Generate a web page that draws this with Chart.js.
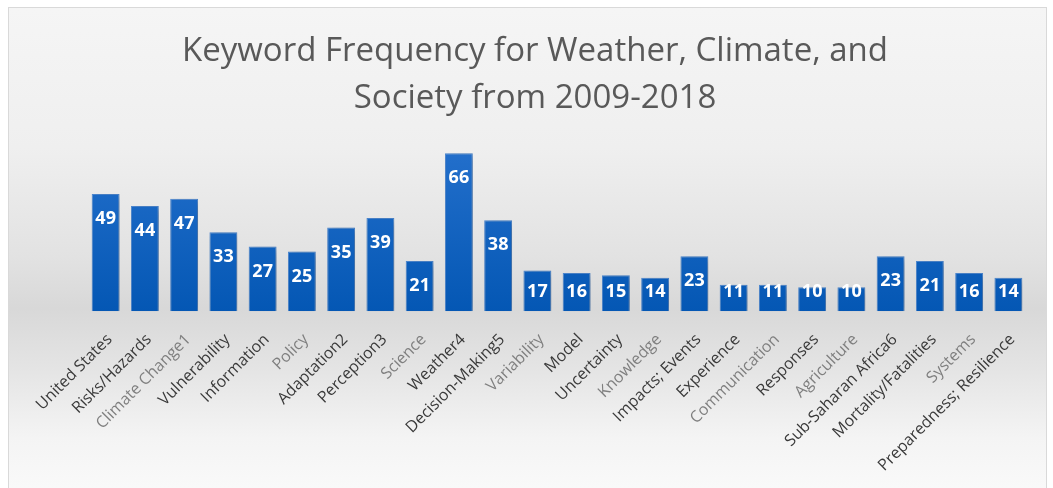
<!DOCTYPE html>
<html>
<head>
<meta charset="utf-8">
<script src="https://cdn.jsdelivr.net/npm/chart.js@4"></script>
<style>
  html, body { margin: 0; padding: 0; background: #ffffff; }
  #frame {
    position: absolute; left: 8px; top: 7px; width: 1037px; height: 490px;
    border: 1px solid #d9d9d9;
    background: linear-gradient(to bottom, #f5f5f5 0px, #efefef 140px, #e2e2e2 250px, #d8d8d8 300px, #e4e4e4 360px, #f4f4f4 430px, #fafafa 490px);
  }
  #wrap { position: absolute; left: 0; top: 0; width: 1053px; height: 488px; }
</style>
</head>
<body>
<div id="frame"></div>
<div id="wrap"><canvas id="myChart"></canvas></div>
<script>
var keywords = ['United States', 'Risks/Hazards', 'Climate Change1', 'Vulnerability', 'Information', 'Policy',
  'Adaptation2', 'Perception3', 'Science', 'Weather4', 'Decision-Making5', 'Variability', 'Model',
  'Uncertainty', 'Knowledge', 'Impacts; Events', 'Experience', 'Communication', 'Responses',
  'Agriculture', 'Sub-Saharan Africa6', 'Mortality/Fatalities', 'Systems', 'Preparedness; Resilience'];
var frequency = [49, 44, 47, 33, 27, 25, 35, 39, 21, 66, 38, 17, 16, 15, 14, 23, 11, 11, 10, 10, 23, 21, 16, 14];
var titleLines = ['Keyword Frequency for Weather, Climate, and', 'Society from 2009-2018'];

// labels drawn lighter in the original
var lightLabels = [2, 5, 8, 11, 14, 17, 19, 22];

// white value labels inside the top of each bar
var barValues = {
  id: 'barValues',
  afterDatasetsDraw: function(chart) {
    var ctx = chart.ctx;
    var meta = chart.getDatasetMeta(0);
    ctx.save();
    ctx.fillStyle = '#ffffff';
    ctx.font = 'bold 18px "Open Sans"';
    ctx.textAlign = 'center';
    ctx.textBaseline = 'middle';
    meta.data.forEach(function(bar, i) {
      var y = Math.min(bar.y + 25, bar.base - 19);
      ctx.fillText(chart.data.datasets[0].data[i], bar.x, y);
    });
    ctx.restore();
  }
};

// soft shadow under the bars
var barShadow = {
  id: 'barShadow',
  beforeDatasetsDraw: function(chart) {
    var ctx = chart.ctx;
    ctx.save();
    ctx.shadowColor = 'rgba(0,0,0,0.28)';
    ctx.shadowBlur = 8;
    ctx.shadowOffsetX = 3;
    ctx.shadowOffsetY = 2;
  },
  afterDatasetsDraw: function(chart) {
    chart.ctx.restore();
  }
};

var ctx = document.getElementById('myChart');

new Chart(ctx, {
  type: 'bar',
  data: {
    labels: keywords,
    datasets: [{
      label: 'Frequency',
      data: frequency,
      backgroundColor: function(c) {
        var area = c.chart.chartArea;
        if (!area) return '#0a5fbf';
        var g = c.chart.ctx.createLinearGradient(0, area.top, 0, area.bottom);
        g.addColorStop(0, '#2470cc');
        g.addColorStop(1, '#0457b4');
        return g;
      },
      borderColor: '#4d88d2',
      borderWidth: 1,
      categoryPercentage: 1,
      barPercentage: 0.71
    }]
  },
  options: {
    responsive: true,
    maintainAspectRatio: false,
    animation: false,
    layout: { padding: { left: 42, right: 25, top: 0, bottom: 2 } },
    plugins: {
      legend: { display: false },
      tooltip: { enabled: false },
      title: {
        display: true,
        text: titleLines,
        color: '#595959',
        font: { family: '"Open Sans"', size: 33, weight: 'normal', lineHeight: 1.42 },
        padding: { top: 28, bottom: 22 }
      }
    },
    scales: {
      y: {
        display: false,
        min: 0,
        max: 70
      },
      x: {
        grid: { display: false },
        border: { display: false },
        afterFit: function(scale) {
          // push the plot area right without moving the title
          scale.paddingLeft = 86;
        },
        ticks: {
          maxRotation: 45,
          minRotation: 45,
          autoSkip: false,
          padding: 11,
          labelOffset: 4,
          color: function(c) { return lightLabels.indexOf(c.index) >= 0 ? '#7f7f7f' : '#3a3a3a'; },
          font: { family: '"Open Sans"', size: 16, weight: 'normal' }
        }
      }
    }
  },
  plugins: [barShadow, barValues]
});
</script>
</body>
</html>
